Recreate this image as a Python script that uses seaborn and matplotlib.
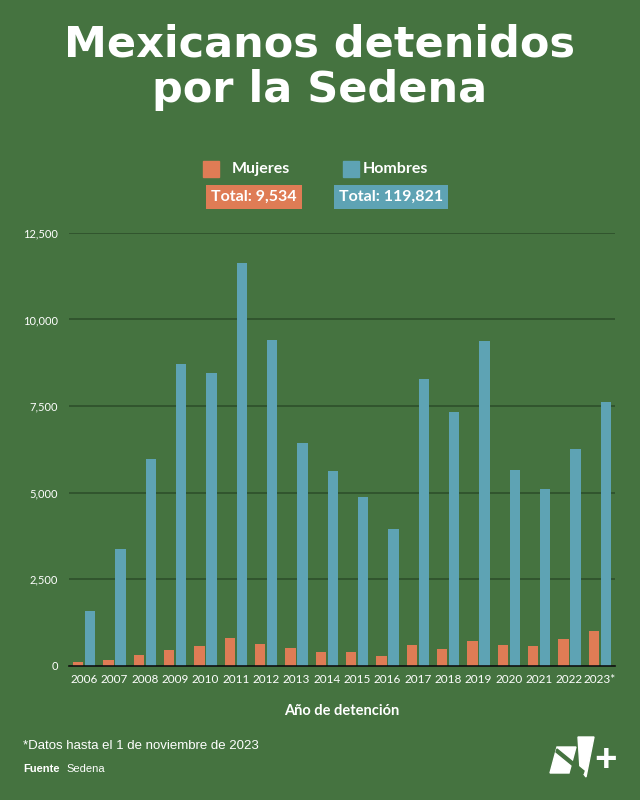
import matplotlib
matplotlib.use("Agg")
import matplotlib.pyplot as plt
from matplotlib.patches import Rectangle, Polygon
import seaborn as sns
import pandas as pd
import numpy as np

years = ["2006", "2007", "2008", "2009", "2010", "2011", "2012", "2013", "2014",
         "2015", "2016", "2017", "2018", "2019", "2020", "2021", "2022", "2023*"]
mujeres = [101, 159, 294, 448, 564, 804, 621, 506, 390, 390, 266, 601, 468, 708, 601, 564, 766, 997]
hombres = [1566, 3376, 5977, 8713, 8462, 11624, 9407, 6421, 5630, 4861, 3954, 8271, 7326, 9387, 5650, 5110, 6266, 7606]
series = ["Mujeres", "Hombres"]
totals = ["Total: 9,534", "Total: 119,821"]
yticks = [0, 2500, 5000, 7500, 10000, 12500]

BG = "#457340"
ORANGE = "#DF7C55"
BLUE = "#5EA3B4"
GRID = "#2C4C29"

df = pd.DataFrame({
    "Año": years * 2,
    "Sexo": ["Mujeres"] * len(years) + ["Hombres"] * len(years),
    "Valor": mujeres + hombres,
})

sns.set_theme(style="white")
plt.rcParams["font.family"] = ["Lato", "DejaVu Sans"]

fig = plt.figure(figsize=(6.4, 8.0), dpi=100, facecolor=BG)
ax = fig.add_axes([69 / 640, 1 - 665.5 / 800, (615 - 69) / 640, (665.5 - 233) / 800])
ax.set_facecolor(BG)

sns.barplot(data=df, x="Año", y="Valor", hue="Sexo", hue_order=series,
            palette=[ORANGE, BLUE], width=0.78, gap=0.12, legend=False,
            saturation=1, ax=ax, linewidth=0)

ax.set_ylim(0, 12500)
ax.set_xlim(-0.5, len(years) - 0.5)
ax.set_yticks(yticks)
ax.set_yticklabels([f"{v:,}" for v in yticks], color="white", fontsize=8)
ax.yaxis.grid(True, color=GRID, linewidth=1.1)
ax.set_axisbelow(True)
for s in ["top", "right", "left"]:
    ax.spines[s].set_visible(False)
ax.spines["bottom"].set_color("#111111")
ax.spines["bottom"].set_linewidth(1.2)
ax.tick_params(axis="y", length=0, pad=8)
ax.tick_params(axis="x", which="major", length=0, pad=6, labelsize=8.5, labelcolor="white")
ax.set_xticks(np.arange(len(years) + 1) - 0.5, minor=True)
ax.tick_params(axis="x", which="minor", length=9, width=1, color="#111111", direction="out")
ax.set_ylabel("")
ax.set_xlabel("Año de detención", color="white", fontsize=10.5, fontweight="bold", labelpad=14)

# Title
fig.text(0.5, 1 - 67 / 800, "Mexicanos detenidos\npor la Sedena", ha="center", va="center",
         color="white", fontsize=31, fontweight="bold", family=["DejaVu Sans"],
         linespacing=1.1)

# Legend
fig.patches.append(Rectangle((203 / 640, 1 - 177 / 800), 16 / 640, 16 / 800,
                             transform=fig.transFigure, color=ORANGE, figure=fig))
fig.text(232 / 640, 1 - 169 / 800, series[0], color="white", fontsize=11.5,
         fontweight="bold", va="center", ha="left")
fig.patches.append(Rectangle((343 / 640, 1 - 177 / 800), 16 / 640, 16 / 800,
                             transform=fig.transFigure, color=BLUE, figure=fig))
fig.text(363 / 640, 1 - 169 / 800, series[1], color="white", fontsize=11.5,
         fontweight="bold", va="center", ha="left")
fig.text(254 / 640, 1 - 197 / 800, totals[0], color="white", fontsize=11.5, fontweight="bold",
         ha="center", va="center",
         bbox=dict(boxstyle="square,pad=0.3", facecolor=ORANGE, edgecolor="none"))
fig.text(391 / 640, 1 - 197 / 800, totals[1], color="white", fontsize=11.5, fontweight="bold",
         ha="center", va="center",
         bbox=dict(boxstyle="square,pad=0.3", facecolor=BLUE, edgecolor="none"))

# Footnotes
fig.text(23 / 640, 1 - 746 / 800, "*Datos hasta el 1 de noviembre de 2023", color="white",
         fontsize=9.5, family=["Liberation Sans", "DejaVu Sans"], va="center")
fig.text(23 / 640, 1 - 769 / 800, "Fuente", color="white", fontsize=8,
         fontweight="bold", family=["Liberation Sans", "DejaVu Sans"], va="center")
fig.text(66 / 640, 1 - 769 / 800, "Sedena", color="white", fontsize=8,
         family=["Liberation Sans", "DejaVu Sans"], va="center")

# Logo (N+)
W, H = 640, 800
def fp(pts):
    return [(x / W, 1 - y / H) for x, y in pts]
fig.patches.append(Polygon(fp([(557, 747), (576, 747), (569, 773), (550, 773)]),
                           closed=True, transform=fig.transFigure, color="white", figure=fig))
fig.patches.append(Polygon(fp([(578, 737), (594, 737), (586, 777), (580, 769)]),
                           closed=True, transform=fig.transFigure, color="white", figure=fig))
fig.patches.append(Polygon(fp([(556, 752), (557, 749), (584, 771), (583, 774)]),
                           closed=True, transform=fig.transFigure, color=BG, figure=fig))
fig.text(606 / 640, 1 - 760 / 800, "+", color="white", fontsize=28, fontweight="black",
         ha="center", va="center")

fig.savefig("out.png", dpi=100, facecolor=BG)
